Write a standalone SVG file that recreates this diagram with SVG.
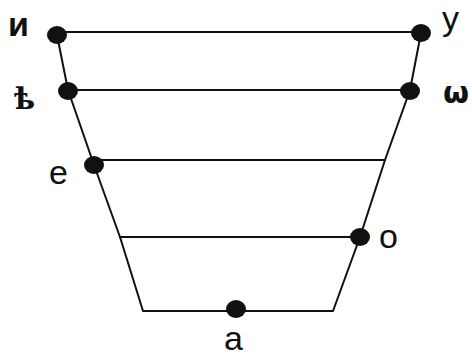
<svg xmlns="http://www.w3.org/2000/svg" width="472" height="356" viewBox="0 0 472 356">
<style>
.ln{stroke:#111;stroke-width:2;fill:none;stroke-linejoin:round}
.dot{fill:#111}
.lb{font-family:"Liberation Sans",Arial,sans-serif;font-size:34px;fill:#111}
.sf{font-family:"DejaVu Serif",serif;font-size:30px;fill:#111;font-weight:bold}
.om{font-family:"DejaVu Sans",sans-serif;font-size:30px;fill:#111;font-weight:bold}
</style>
<rect width="472" height="356" fill="#fff"/>
<g id="connectors">
<polyline class="ln" points="57,35 68,90 94,165 120,237 143,311 333,311 360,237 385,160 410,90 421,33"/>
<line class="ln" x1="57" y1="32" x2="421" y2="32"/>
<line class="ln" x1="68" y1="90" x2="410" y2="90"/>
<line class="ln" x1="93" y1="160" x2="386" y2="160"/>
<line class="ln" x1="119" y1="237" x2="360" y2="237"/>
</g>
<g id="node-i"><ellipse class="dot" cx="57" cy="35" rx="10" ry="9"/><text class="lb" x="8" y="36" font-weight="bold">и</text></g>
<g id="node-u"><ellipse class="dot" cx="421" cy="33" rx="10" ry="9"/><text class="lb" x="442" y="30">у</text></g>
<g id="node-yat"><ellipse class="dot" cx="68" cy="91" rx="10" ry="9"/><text class="sf" x="14" y="109">ѣ</text></g>
<g id="node-omega"><ellipse class="dot" cx="410" cy="91" rx="10" ry="9"/><text class="om" x="443" y="103">ѡ</text></g>
<g id="node-e"><ellipse class="dot" cx="94" cy="165" rx="10" ry="9"/><text class="lb" x="49" y="184">е</text></g>
<g id="node-o"><ellipse class="dot" cx="360" cy="237" rx="10" ry="9"/><text class="lb" x="379" y="248">о</text></g>
<g id="node-a"><ellipse class="dot" cx="236" cy="309" rx="10" ry="9"/><text class="lb" x="224" y="350">а</text></g>
</svg>
